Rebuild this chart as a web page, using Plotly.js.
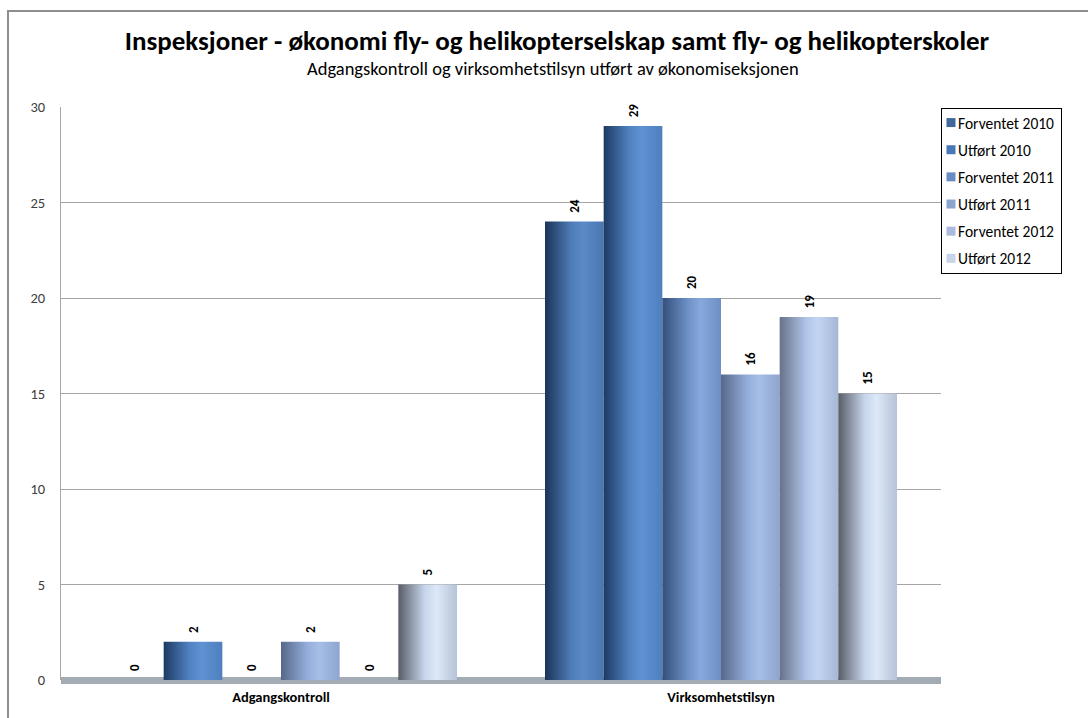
<!DOCTYPE html>
<html>
<head>
<meta charset="utf-8">
<script src="https://cdn.plot.ly/plotly-3.0.1.min.js"></script>
<style>
  html, body { margin: 0; padding: 0; background: #fff; overflow: hidden; }
  #chart { width: 1088px; height: 718px; }
  #frame { position: absolute; left: 7px; top: 10px; width: 1200px; height: 800px;
           border-left: 2px solid #8e8e8e; border-top: 2px solid #8e8e8e; pointer-events: none; }
</style>
</head>
<body>
<div id="chart"></div>
<div id="frame"></div>
<script>
// Inspection counts per category and series
const categories = ['Adgangskontroll', 'Virksomhetstilsyn'];
const seriesNames = ['Forventet 2010', 'Utført 2010', 'Forventet 2011', 'Utført 2011', 'Forventet 2012', 'Utført 2012'];
const forventet2010 = [0, 24];
const utfort2010 = [2, 29];
const forventet2011 = [0, 20];
const utfort2011 = [2, 16];
const forventet2012 = [0, 19];
const utfort2012 = [5, 15];
const seriesValues = [forventet2010, utfort2010, forventet2011, utfort2011, forventet2012, utfort2012];

// Legend swatch colours and cylinder shading stops (dark edge -> highlight -> right edge)
const swatchColors = ['#41689c', '#4878b8', '#6a8cc4', '#8ca4d0', '#aab9dc', '#c8d2e8'];
const shading = [
  ['#1b3457', '#4e7cb6', '#5a8ac8', '#4a76b0'],
  ['#1d3a62', '#5284c4', '#5f92d2', '#4f7fbd'],
  ['#34507b', '#6f92c8', '#86a8dc', '#6e8fc4'],
  ['#56678a', '#94aedb', '#a6bfe7', '#8ea5cf'],
  ['#67728a', '#b0c4e8', '#c3d5f1', '#a6b7d6'],
  ['#585d66', '#c7d5ec', '#dde8f8', '#b6c2d6']
];

const fontMain = 'Carlito, "Liberation Sans Narrow", "Liberation Sans", sans-serif';

// rotated value labels: leading space lifts them off the bar top
const pad = '\u00a0\u00a0';

const traces = seriesNames.map((name, i) => ({
  type: 'bar',
  name: name,
  x: categories,
  y: seriesValues[i],
  legendgroup: 'g' + i,
  marker: { color: swatchColors[i], line: { width: 0 } },
  text: seriesValues[i].map(v => pad + String(v)),
  textposition: 'outside',
  textangle: -90,
  cliponaxis: false,
  textfont: { family: fontMain, size: 13, color: '#000', weight: 'bold' },
  hoverinfo: 'x+y+name'
}));

const layout = {
  width: 1088,
  height: 718,
  margin: { l: 61, r: 147, t: 107, b: 38 },
  paper_bgcolor: '#fff',
  plot_bgcolor: '#fff',
  barmode: 'group',
  bargap: 0.2,
  bargroupgap: 0,
  font: { family: fontMain, color: '#404040' },
  title: {
    text: 'Inspeksjoner - økonomi fly- og helikopterselskap samt fly- og helikopterskoler',
    font: { family: fontMain, size: 27, color: '#000', weight: 'bold' },
    x: 557 / 1088, xanchor: 'center',
    y: 1 - 41 / 718, yref: 'container', yanchor: 'middle'
  },
  annotations: [{
    text: 'Adgangskontroll og virksomhetstilsyn utført av økonomiseksjonen',
    xref: 'paper', yref: 'paper',
    x: (553 - 61) / 880, y: (680 - 68) / 573,
    xanchor: 'center', yanchor: 'middle',
    showarrow: false,
    font: { family: fontMain, size: 18.5, color: '#000' }
  }],
  xaxis: {
    range: [-0.5, 1.5],
    showgrid: false,
    showline: false,
    ticks: '',
    ticklabelstandoff: 6,
    tickfont: { family: fontMain, size: 14.5, color: '#000', weight: 'bold' },
    zeroline: false
  },
  yaxis: {
    range: [0, 30],
    dtick: 5,
    showgrid: true,
    gridcolor: '#a6a6a6',
    gridwidth: 1,
    showline: true,
    linecolor: '#a6a6a6',
    linewidth: 1,
    zeroline: true,
    zerolinecolor: '#a3abb4',
    zerolinewidth: 7,
    ticks: '',
    ticklabelstandoff: 12,
    tickfont: { family: fontMain, size: 14.5, color: '#404040' }
  },
  legend: {
    x: (1062 - 61) / 880, xanchor: 'right',
    y: 1 - (108 - 107) / 573, yanchor: 'top',
    bordercolor: '#000',
    borderwidth: 1,
    bgcolor: '#fff',
    tracegroupgap: 4,
    font: { family: fontMain, size: 15.5, color: '#000' }
  },
  showlegend: true
};

Plotly.newPlot('chart', traces, layout, { displayModeBar: false, staticPlot: true }).then(gd => {
  const ns = 'http://www.w3.org/2000/svg';

  // Cylinder-like horizontal shading on each bar
  const svg = gd.querySelector('svg.main-svg');
  const defs = svg.querySelector('defs');
  shading.forEach((stops, i) => {
    const grad = document.createElementNS(ns, 'linearGradient');
    grad.setAttribute('id', 'barShade' + i);
    grad.setAttribute('x1', '0'); grad.setAttribute('x2', '1');
    grad.setAttribute('y1', '0'); grad.setAttribute('y2', '0');
    [0, 0.45, 0.65, 1].forEach((off, k) => {
      const s = document.createElementNS(ns, 'stop');
      s.setAttribute('offset', off);
      s.setAttribute('stop-color', stops[k]);
      grad.appendChild(s);
    });
    defs.appendChild(grad);
  });
  gd.querySelectorAll('.barlayer g.trace').forEach((tr, i) => {
    tr.querySelectorAll('g.point path').forEach(p => {
      p.style.fill = 'url(#barShade' + i + ')';
    });
  });

  // Compact legend: small swatches close to the labels, box kept at its right edge
  const leg = gd.querySelector('g.legend');
  if (leg) {
    const bg = leg.querySelector('rect.bg');
    const texts = leg.querySelectorAll('text.legendtext');
    let maxW = 0;
    texts.forEach(t => {
      t.setAttribute('x', 16);
      maxW = Math.max(maxW, t.getComputedTextLength());
    });
    leg.querySelectorAll('g.legendpoints path').forEach(p => {
      p.setAttribute('transform', 'translate(9,0) scale(0.75)');
    });
    const oldW = parseFloat(bg.getAttribute('width'));
    const newW = Math.round(maxW + 16 + 8);
    bg.setAttribute('width', newW);
    const oldH = parseFloat(bg.getAttribute('height'));
    bg.setAttribute('height', oldH - 5);
    const box = leg.querySelector('g.scrollbox');
    if (box) box.setAttribute('transform', 'translate(0,-3)');
    const m = /translate\(\s*([-\d.]+)[ ,]+([-\d.]+)\s*\)/.exec(leg.getAttribute('transform'));
    if (m) {
      const lx = parseFloat(m[1]) + (oldW - newW);
      leg.setAttribute('transform', 'translate(' + lx + ',' + m[2] + ')');
    }
  }
});
</script>
</body>
</html>
